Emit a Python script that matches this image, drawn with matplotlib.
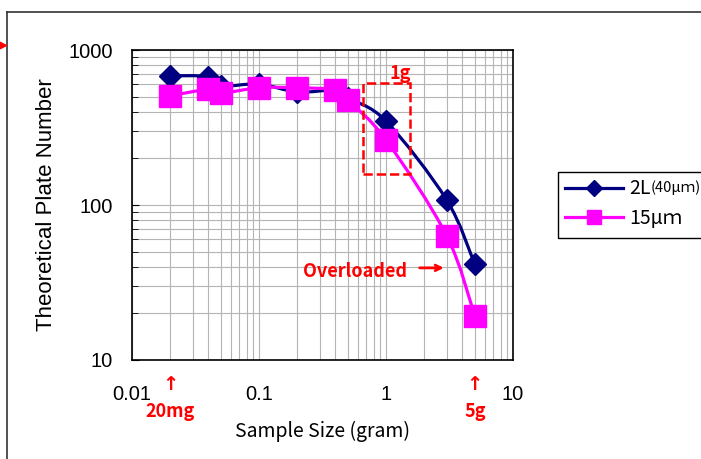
import numpy as np
import matplotlib
matplotlib.use("Agg")
import matplotlib.pyplot as plt
from matplotlib.path import Path
from matplotlib.patches import PathPatch, Rectangle
from matplotlib.lines import Line2D

plt.rcParams['font.family'] = ['Noto Sans CJK JP', 'DejaVu Sans']

# sample size (gram)
size_2l = [0.02, 0.04, 0.05, 0.1, 0.2, 0.4, 0.5, 1, 3, 5]
plates_2l = [682, 673, 586, 603, 536, 550, 490, 348, 108, 41.5]

size_15 = [0.02, 0.04, 0.05, 0.1, 0.2, 0.4, 0.5, 1, 3, 5]
plates_15 = [507, 557, 526, 571, 571, 552, 476, 263, 63.5, 19.3]

navy = '#000080'
magenta = '#FF00FF'
red = '#FF0000'


def smooth_path(xs, ys):
    # excel style smoothed line: bezier through the points in log space
    lx = np.log10(xs)
    ly = np.log10(ys)
    verts = [(xs[0], ys[0])]
    codes = [Path.MOVETO]
    n = len(xs)
    for i in range(n - 1):
        p0 = i - 1 if i > 0 else i
        p3 = i + 2 if i + 2 < n else i + 1
        c1x = lx[i] + (lx[i + 1] - lx[p0]) / 6
        c1y = ly[i] + (ly[i + 1] - ly[p0]) / 6
        c2x = lx[i + 1] - (lx[p3] - lx[i]) / 6
        c2y = ly[i + 1] - (ly[p3] - ly[i]) / 6
        verts += [(10 ** c1x, 10 ** c1y), (10 ** c2x, 10 ** c2y), (xs[i + 1], ys[i + 1])]
        codes += [Path.CURVE4] * 3
    return Path(verts, codes)


fig = plt.figure(figsize=(7.01, 4.59), dpi=100)
ax = fig.add_axes([0.1883, 0.2157, 0.7318 - 0.1883, 0.891 - 0.2157])
ax.set_xscale('log')
ax.set_yscale('log')
ax.set_xlim(0.01, 10)
ax.set_ylim(10, 1000)

ax.grid(True, which='both', color='#b4b4b4', linewidth=0.8)
ax.set_axisbelow(True)

for xs, ys, col, mk, ms in [(size_2l, plates_2l, navy, 'D', 11),
                            (size_15, plates_15, magenta, 's', 15.5)]:
    ax.add_patch(PathPatch(smooth_path(xs, ys), fill=False, edgecolor=col,
                           linewidth=2.3, zorder=3))
    ax.plot(xs, ys, linestyle='none', marker=mk, markersize=ms, color=col, zorder=4)

for s in ax.spines.values():
    s.set_linewidth(1.2)
    s.set_color('black')

ax.tick_params(which='both', direction='in', labelsize=14.5, pad=8)
ax.tick_params(axis='x', which='both', length=0, pad=18)
ax.tick_params(axis='y', which='major', length=5, pad=14)
ax.tick_params(axis='y', which='minor', length=4)
ax.set_xticks([0.01, 0.1, 1, 10])
ax.set_xticklabels(['0.01', '0.1', '1', '10'])
ax.set_yticks([10, 100, 1000])
ax.set_yticklabels(['10', '100', '1000'])
for t in ax.get_xticklabels() + ax.get_yticklabels():
    t.set_family('Liberation Sans')

ax.set_ylabel('Theoretical Plate Number', fontsize=16, labelpad=8,
              family='Liberation Sans')
ax.set_xlabel('Sample Size (gram)', fontsize=14, labelpad=12)

# legend box runs past the right edge like the original, so draw the frame by hand
fig.add_artist(Rectangle((558 / 701, 1 - 238 / 459), 0.3, 66 / 459, fill=False,
                         edgecolor='black', linewidth=1.0, transform=fig.transFigure))
handles = [Line2D([], [], color=navy, linewidth=2.3, marker='D', markersize=8),
           Line2D([], [], color=magenta, linewidth=2.3, marker='s', markersize=10)]
leg = ax.legend(handles, ['2L', '15μｍ'], loc='upper left',
                bbox_to_anchor=(0.796, 0.626), bbox_transform=fig.transFigure,
                fontsize=14, frameon=False, handlelength=3.0,
                borderpad=0.35, labelspacing=0.45, handletextpad=0.3,
                borderaxespad=0)
ax.annotate('(40μｍ)', xy=(1, 0.22), xycoords=leg.get_texts()[0], fontsize=10.5,
            ha='left', va='bottom', annotation_clip=False, zorder=10)

# annotations
ax.add_patch(Rectangle((0.66, 158), 1.545 - 0.66, 615 - 158, fill=False,
                       edgecolor=red, linestyle='--', linewidth=1.8, zorder=5))
ax.text(1.3, 710, '1g', color=red, fontsize=13, fontweight='bold',
        ha='center', va='center')
ax.text(0.57, 37, 'Overloaded', color=red, fontsize=13, fontweight='bold',
        ha='center', va='center')
ax.annotate('', xy=(3.0, 39.3), xytext=(1.75, 39.3),
            arrowprops=dict(arrowstyle='->', color=red, lw=2))

tr = ax.get_xaxis_transform()
for xv, lab in [(0.02, '20mg'), (5, '5g')]:
    ax.text(xv, -0.08, '↑', transform=tr, color=red, fontsize=14, fontweight='bold',
            ha='center', va='center', family='DejaVu Sans', clip_on=False)
    ax.text(xv, -0.165, lab, transform=tr, color=red, fontsize=13, fontweight='bold',
            ha='center', va='center', clip_on=False)

# outer chart frame
fig.add_artist(Line2D([7 / 701, 7 / 701], [0, 1 - 12 / 459], color='#333333',
                      linewidth=1.2, transform=fig.transFigure))
fig.add_artist(Line2D([7 / 701, 1], [1 - 12 / 459, 1 - 12 / 459], color='#333333',
                      linewidth=1.2, transform=fig.transFigure))
fig.add_artist(Line2D([0.002], [1 - 45 / 459], marker='>', color=red, markersize=7,
                      linestyle='none', transform=fig.transFigure))

fig.savefig('out.png', dpi=100)
